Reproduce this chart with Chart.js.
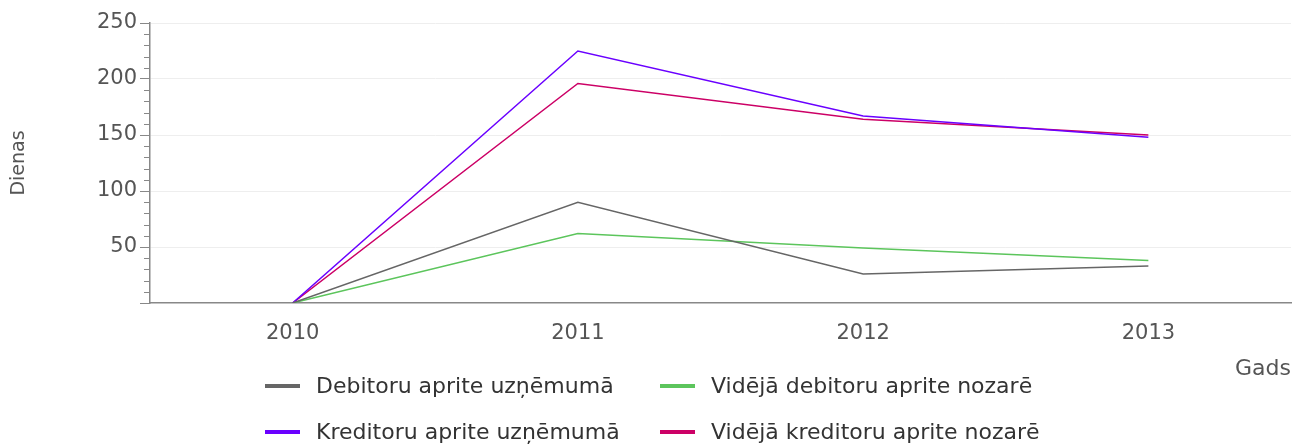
<!DOCTYPE html>
<html>
<head>
<meta charset="utf-8">
<script src="https://cdn.jsdelivr.net/npm/chart.js@4"></script>
<style>
	body { margin: 0; background: #fff; }
	#wrap { position: relative; width: 1294px; height: 444px; }
	#legend { position: absolute; left: 265px; top: 372px; font-family: "DejaVu Sans", sans-serif; font-size: 22px; color: #333; }
	#legend .item { position: absolute; white-space: nowrap; height: 28px; line-height: 28px; }
	#legend .swatch { display: inline-block; width: 35px; height: 4px; vertical-align: middle; margin-right: 16px; position: relative; top: -1px; }
</style>
</head>
<body>
<div id="wrap">
	<canvas id="chart" width="1294" height="444"></canvas>
	<div id="legend"></div>
</div>
<script>
var years = ["2010", "2011", "2012", "2013"];
var debitoruUznemuma = [0, 90, 26, 33];
var kreditoruUznemuma = [0, 225, 167, 148];
var videjaDebitoru = [0, 62, 49, 38];
var videjaKreditoru = [0, 196, 164, 150];

var seriesNames = [
	"Debitoru aprite uzņēmumā",
	"Vidējā debitoru aprite nozarē",
	"Kreditoru aprite uzņēmumā",
	"Vidējā kreditoru aprite nozarē",
];
var seriesColors = ["#666666", "#5cc55c", "#6a00ff", "#cc0066"];
var seriesData = [debitoruUznemuma, videjaDebitoru, kreditoruUznemuma, videjaKreditoru];

var tickFont = { family: "DejaVu Sans", size: 21 };

// shorter ticks between the labelled ones
var minorTicks = {
	id: "minorTicks",
	afterDraw: function (chart) {
		var y = chart.scales.y;
		var ctx = chart.ctx;
		ctx.save();
		ctx.strokeStyle = "#888";
		ctx.lineWidth = 1;
		y.ticks.forEach(function (t) {
			if (t.value % 50 === 0) return;
			var py = Math.round(y.getPixelForValue(t.value)) + 0.5;
			ctx.beginPath();
			ctx.moveTo(y.right - 6, py);
			ctx.lineTo(y.right, py);
			ctx.stroke();
		});
		ctx.restore();
	},
};

var chart = new Chart(document.getElementById("chart").getContext("2d"), {
	type: "line",
	data: {
		labels: years,
		datasets: seriesData.map(function (d, i) {
			return {
				label: seriesNames[i],
				data: d,
				borderColor: seriesColors[i],
				backgroundColor: seriesColors[i],
				borderWidth: 1.5,
				pointRadius: 0,
				tension: 0,
			};
		}),
	},
	options: {
		responsive: false,
		animation: false,
		layout: { padding: { top: 23, right: 3, left: 0, bottom: 62 } },
		plugins: {
			legend: { display: false },
			tooltip: { enabled: false },
		},
		scales: {
			x: {
				offset: true,
				afterFit: function (s) { s.height = 79; },
				grid: { display: false },
				border: { display: true, color: "#888", width: 1.5 },
				ticks: { font: tickFont, color: "#555", padding: 10 },
				title: {
					display: true,
					text: "Gads",
					align: "end",
					font: { family: "DejaVu Sans", size: 22 },
					color: "#555",
					padding: { top: 0, bottom: 0 },
				},
			},
			y: {
				min: 0,
				max: 250,
				afterFit: function (s) { s.width = 150; },
				grid: {
					color: function (c) {
						return c.tick && c.tick.value % 50 === 0 && c.tick.value !== 0 ? "#eeeeee" : "rgba(0,0,0,0)";
					},
					tickColor: function (c) {
						return c.tick && c.tick.value % 50 === 0 ? "#888" : "rgba(0,0,0,0)";
					},
					tickLength: 10,
				},
				border: { display: true, color: "#888", width: 1.5 },
				ticks: {
					stepSize: 10,
					autoSkip: false,
					padding: 3,
					font: tickFont,
					color: "#555",
					callback: function (v) {
						return v % 50 === 0 && v !== 0 ? String(v) : "";
					},
				},
				title: {
					display: true,
					text: "Dienas",
					font: { family: "DejaVu Sans", size: 19 },
					color: "#555",
					padding: { top: 8, bottom: 0 },
				},
			},
		},
	},
	plugins: [minorTicks],
});

// two-column legend under the chart, built from the chart's own datasets
var legend = document.getElementById("legend");
chart.data.datasets.forEach(function (ds, i) {
	var item = document.createElement("div");
	item.className = "item";
	item.style.left = (i % 2) * 395 + "px";
	item.style.top = Math.floor(i / 2) * 46 + "px";
	var sw = document.createElement("span");
	sw.className = "swatch";
	sw.style.background = ds.borderColor;
	item.appendChild(sw);
	item.appendChild(document.createTextNode(ds.label));
	legend.appendChild(item);
});
</script>
</body>
</html>
